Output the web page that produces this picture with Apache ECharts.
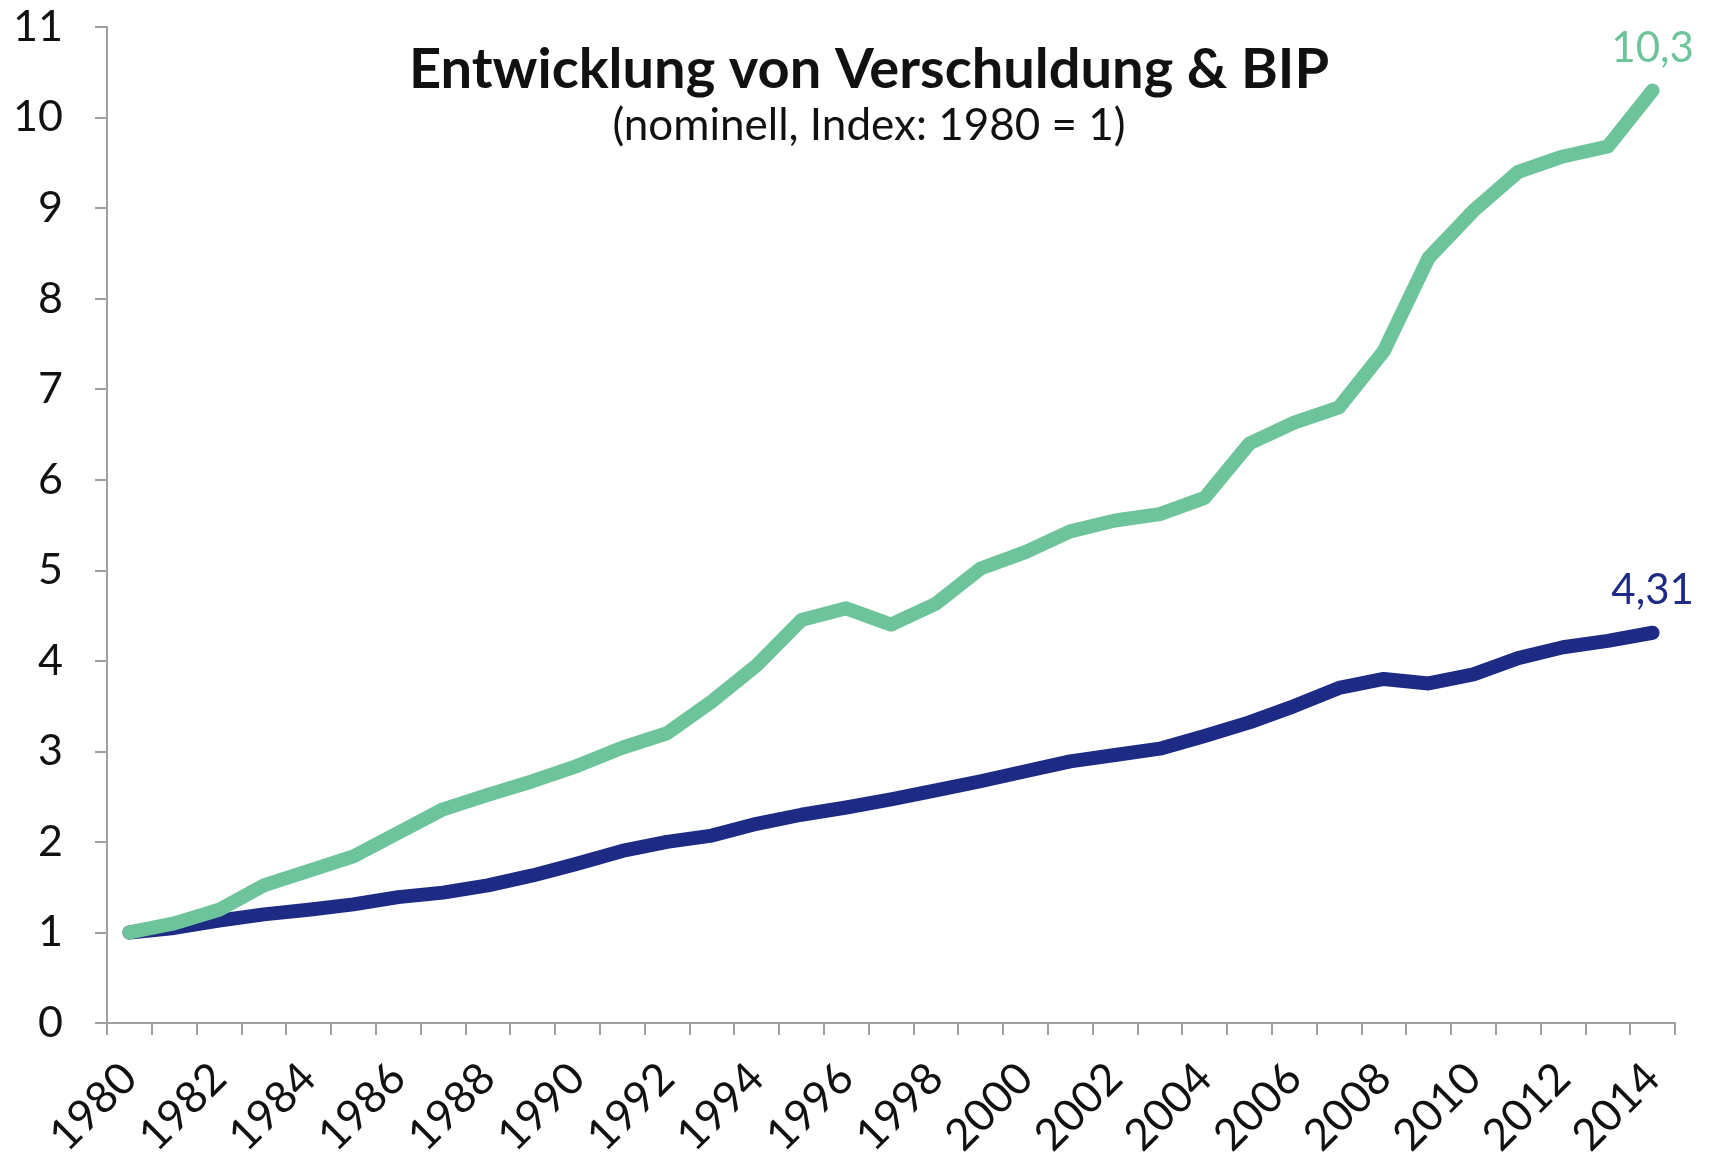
<!DOCTYPE html>
<html>
<head>
<meta charset="utf-8">
<script src="https://cdn.jsdelivr.net/npm/echarts@6/dist/echarts.min.js"></script>
<style>html,body{margin:0;padding:0;background:#fff}#c{width:1710px;height:1163px}</style>
</head>
<body>
<div id="c"></div>
<script>
const years = ['1980','1981','1982','1983','1984','1985','1986','1987','1988','1989','1990','1991','1992','1993','1994','1995','1996','1997','1998','1999','2000','2001','2002','2003','2004','2005','2006','2007','2008','2009','2010','2011','2012','2013','2014'];
const verschuldung = [1.0,1.1,1.25,1.52,1.68,1.84,2.1,2.36,2.52,2.67,2.84,3.04,3.2,3.55,3.95,4.45,4.58,4.4,4.63,5.02,5.2,5.43,5.55,5.62,5.8,6.4,6.63,6.8,7.42,8.45,8.97,9.4,9.57,9.68,10.3];
const bip = [1.0,1.05,1.13,1.2,1.25,1.31,1.39,1.44,1.52,1.63,1.76,1.9,2.0,2.07,2.2,2.3,2.38,2.47,2.57,2.67,2.78,2.89,2.96,3.03,3.17,3.32,3.5,3.7,3.8,3.75,3.85,4.03,4.15,4.22,4.31];
const titleText = 'Entwicklung von Verschuldung & BIP';
const subtitleText = '(nominell, Index: 1980 = 1)';

const FONT = 'Lato';
const chart = echarts.init(document.getElementById('c'));
function endLabel(arr){
  return p => p.dataIndex === arr.length - 1 ? String(arr[p.dataIndex]).replace('.', ',') : '';
}
chart.setOption({
  animation: false,
  backgroundColor: '#ffffff',
  textStyle: {fontFamily: FONT},
  title: {
    text: titleText,
    subtext: subtitleText,
    left: 864, top: 37, textAlign: 'center',
    itemGap: 6,
    textStyle: {fontFamily: FONT, fontSize: 56, fontWeight: 'bold', color: '#111'},
    subtextStyle: {fontFamily: FONT, fontSize: 44, color: '#111'}
  },
  grid: {left: 107, right: 35, top: 27, bottom: 140, containLabel: false},
  xAxis: {
    type: 'category', data: years, boundaryGap: true,
    axisLine: {lineStyle: {color: '#a0a0a0', width: 2}},
    axisTick: {show: true, interval: 0, length: 12, lineStyle: {color: '#a0a0a0', width: 2}},
    axisLabel: {interval: 1, rotate: 45, margin: 48, fontSize: 44, color: '#111', fontFamily: FONT},
    splitLine: {show: false}
  },
  yAxis: {
    type: 'value', min: 0, max: 11, interval: 1,
    axisLine: {show: true, lineStyle: {color: '#a0a0a0', width: 2}},
    axisTick: {show: true, length: 12, lineStyle: {color: '#a0a0a0', width: 2}},
    axisLabel: {margin: 44, fontSize: 43, color: '#111', fontFamily: FONT},
    splitLine: {show: false}
  },
  series: [
    {
      name: 'BIP', type: 'line', data: bip, symbol: 'circle', symbolSize: 2, showSymbol: true, smooth: false,
      lineStyle: {color: '#1d2b85', width: 14, cap: 'round', join: 'round'},
      itemStyle: {color: '#1d2b85'},
      label: {show: true, position: 'top', distance: 20, formatter: endLabel(bip), fontSize: 42, color: '#1d2b85', fontFamily: FONT},
      z: 2
    },
    {
      name: 'Verschuldung', type: 'line', data: verschuldung, symbol: 'circle', symbolSize: 2, showSymbol: true, smooth: false,
      lineStyle: {color: '#6dc49b', width: 14, cap: 'round', join: 'round'},
      itemStyle: {color: '#6dc49b'},
      label: {show: true, position: 'top', distance: 20, formatter: endLabel(verschuldung), fontSize: 42, color: '#6dc49b', fontFamily: FONT},
      z: 3
    }
  ]
});
</script>
</body>
</html>
